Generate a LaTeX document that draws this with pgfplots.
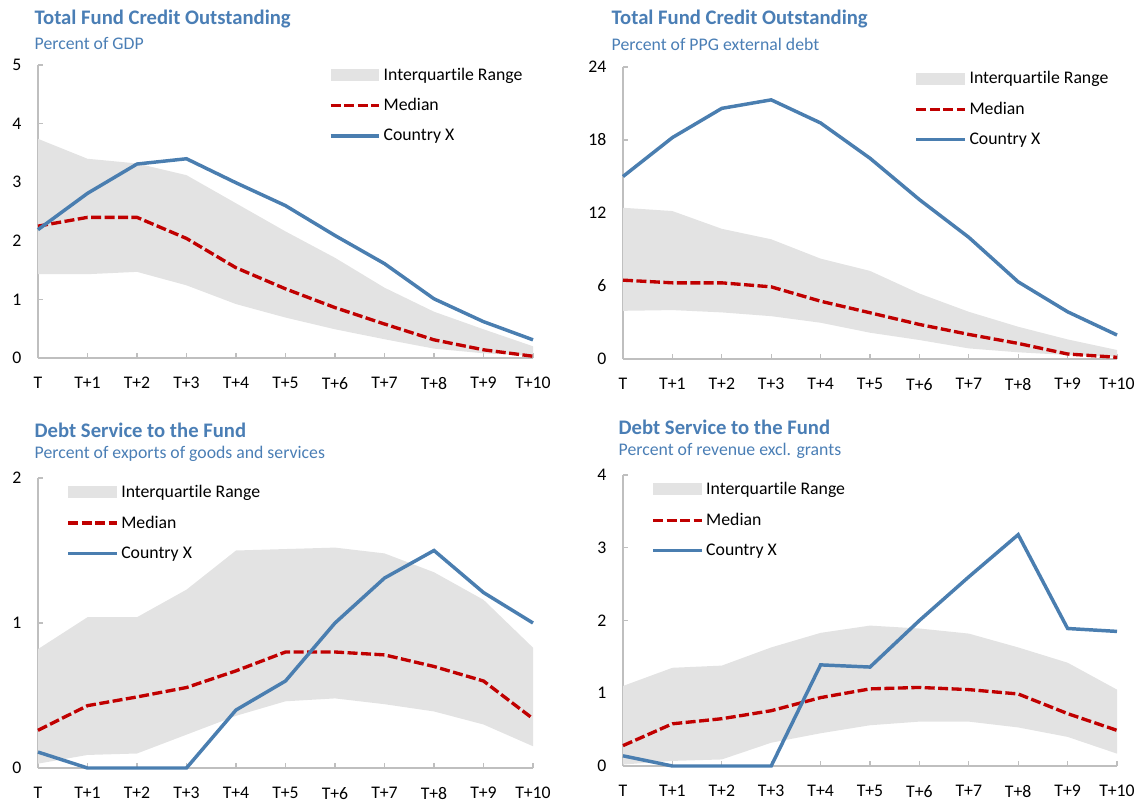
\documentclass[border=0pt]{standalone}
\usepackage{pgfplots}
\pgfplotsset{compat=1.18}
\usepgfplotslibrary{fillbetween}
\usepackage{fontspec}
\setmainfont{Carlito}[Ligatures=NoCommon]
\definecolor{ttl}{HTML}{4A7EB5}
\definecolor{cx}{HTML}{4A7EB0}
\definecolor{med}{HTML}{C00000}
\definecolor{iqr}{HTML}{E3E3E3}
\definecolor{axc}{HTML}{BFBFBF}

\pgfplotstableread{
x up lo med cx
0 3.74 1.43 2.25 2.19
1 3.40 1.43 2.40 2.81
2 3.32 1.47 2.40 3.31
3 3.12 1.24 2.04 3.40
4 2.64 0.92 1.54 2.99
5 2.16 0.69 1.18 2.60
6 1.71 0.49 0.86 2.09
7 1.20 0.32 0.58 1.61
8 0.79 0.16 0.31 1.01
9 0.49 0.08 0.14 0.62
10 0.20 0.04 0.03 0.31
}\tA
\pgfplotstableread{
x up lo med cx
0 12.43 3.96 6.48 15.0
1 12.16 4.02 6.26 18.2
2 10.70 3.83 6.26 20.6
3 9.84 3.52 5.93 21.3
4 8.25 2.98 4.75 19.4
5 7.24 2.16 3.80 16.5
6 5.38 1.56 2.84 13.1
7 3.88 0.87 2.02 10.0
8 2.65 0.55 1.28 6.34
9 1.61 0.33 0.41 3.88
10 0.74 0.19 0.14 1.97
}\tB
\pgfplotstableread{
x up lo med cx
0 0.82 0.03 0.26 0.11
1 1.04 0.09 0.43 0.00
2 1.04 0.10 0.49 0.00
3 1.23 0.23 0.555 0.00
4 1.50 0.36 0.67 0.40
5 1.51 0.46 0.80 0.60
6 1.52 0.48 0.80 1.00
7 1.48 0.44 0.78 1.31
8 1.35 0.39 0.70 1.50
9 1.16 0.30 0.60 1.21
10 0.83 0.15 0.34 1.00
}\tC
\pgfplotstableread{
x up lo med cx
0 1.10 0.02 0.28 0.14
1 1.35 0.07 0.58 0.00
2 1.38 0.09 0.65 0.00
3 1.63 0.32 0.76 0.00
4 1.83 0.45 0.94 1.39
5 1.93 0.56 1.06 1.36
6 1.89 0.61 1.08 2.00
7 1.82 0.61 1.05 2.60
8 1.63 0.53 0.99 3.18
9 1.42 0.40 0.72 1.89
10 1.05 0.17 0.49 1.85
}\tD

\pgfplotsset{
  panel/.style={
    scale only axis,
    anchor=south west,
    xmin=0, xmax=10,
    ymin=0,
    axis x line=bottom, axis y line=left,
    axis line style={axc, line width=1.2pt, -},
    xtick={0,...,10},
    xticklabels={T,T+1,T+2,T+3,T+4,T+5,T+6,T+7,T+8,T+9,T+10},
    tick align=inside,
    major tick length=4pt,
    tick style={axc, line width=1pt},
    ticklabel style={font=\fontsize{13.3}{15}\selectfont, text=black},
    /pgf/number format/assume math mode=true,
    xticklabel style={yshift=-11pt},
    yticklabel style={xshift=-9pt},
    clip=false,
    legend cell align=left,
    legend style={draw=none, fill=none, font=\fontsize{13.3}{15}\selectfont,
      row sep=8.3pt, inner xsep=0pt, inner ysep=0pt},
  },
  linelegend/.style={legend image code/.code={\draw[##1] (0pt,0pt) -- (36.5pt,0pt);}},
  arealegend/.style={legend image code/.code={\fill[##1] (0pt,-4.5pt) rectangle (36.5pt,4.5pt);}},
  cxl/.style={cx, line width=2.6pt, linelegend},
  medl/.style={med, line width=2.5pt, dash pattern=on 7.5pt off 2.6pt, linelegend},
  iqrl/.style={iqr, draw=none, arealegend},
}

\newcommand{\panelplots}[1]{%
  \addplot[name path=U, draw=none, forget plot] table[x=x,y=up] {#1};
  \addplot[name path=L, draw=none, forget plot] table[x=x,y=lo] {#1};
  \addplot[iqrl] fill between[of=U and L];
  \addlegendentry{Interquartile Range}
  \addplot[medl] table[x=x,y=med] {#1};
  \addlegendentry{Median}
  \addplot[cxl] table[x=x,y=cx] {#1};
  \addlegendentry{Country X}
}

\begin{document}
\begin{tikzpicture}
% Panel 1
\begin{axis}[panel, at={(28.5pt,333pt)}, width=371.25pt, height=219.75pt,
  ymax=5, ytick={0,1,2,3,4,5},
  legend style={at={(0.587,1.0)}, anchor=north west}]
\panelplots{\tA}
\end{axis}
\node[anchor=west, text=ttl, font=\fontsize{15.5}{17}\selectfont\bfseries] at (22.5pt,587.25pt) {Total Fund Credit Outstanding};
\node[anchor=west, text=ttl, font=\fontsize{13.3}{15}\selectfont] at (22.5pt,569.25pt) {Percent of GDP};

% Panel 2
\begin{axis}[panel, at={(467.25pt,332.25pt)}, width=370.5pt, height=219pt,
  ymax=24, ytick={0,6,12,18,24},
  legend style={at={(0.59,0.995)}, anchor=north west}]
\panelplots{\tB}
\end{axis}
\node[anchor=west, text=ttl, font=\fontsize{15.5}{17}\selectfont\bfseries] at (455.25pt,587.25pt) {Total Fund Credit Outstanding};
\node[anchor=west, text=ttl, font=\fontsize{13.3}{15}\selectfont] at (455.25pt,568.5pt) {Percent of PPG external debt};

% Panel 3
\begin{axis}[panel, at={(28.5pt,25.5pt)}, width=371.25pt, height=217.5pt,
  ymax=2, ytick={0,1,2},
  legend style={at={(0.057,0.985)}, anchor=north west}]
\panelplots{\tC}
\end{axis}
\node[anchor=west, text=ttl, font=\fontsize{15.5}{17}\selectfont\bfseries] at (22.5pt,279pt) {Debt Service to the Fund};
\node[anchor=west, text=ttl, font=\fontsize{13.3}{15}\selectfont] at (22.5pt,261pt) {Percent of exports of goods and services};

% Panel 4
\begin{axis}[panel, at={(467.25pt,27pt)}, width=370.5pt, height=218.25pt,
  ymax=4, ytick={0,1,2,3,4},
  legend style={at={(0.057,0.985)}, anchor=north west}]
\panelplots{\tD}
\end{axis}
\node[anchor=west, text=ttl, font=\fontsize{15.5}{17}\selectfont\bfseries] at (460.5pt,281.25pt) {Debt Service to the Fund};
\node[anchor=west, text=ttl, font=\fontsize{13.3}{15}\selectfont] at (460.5pt,263.25pt) {Percent of revenue excl. grants};
\path (0,0) rectangle (855pt,601.5pt);
\end{tikzpicture}
\end{document}
